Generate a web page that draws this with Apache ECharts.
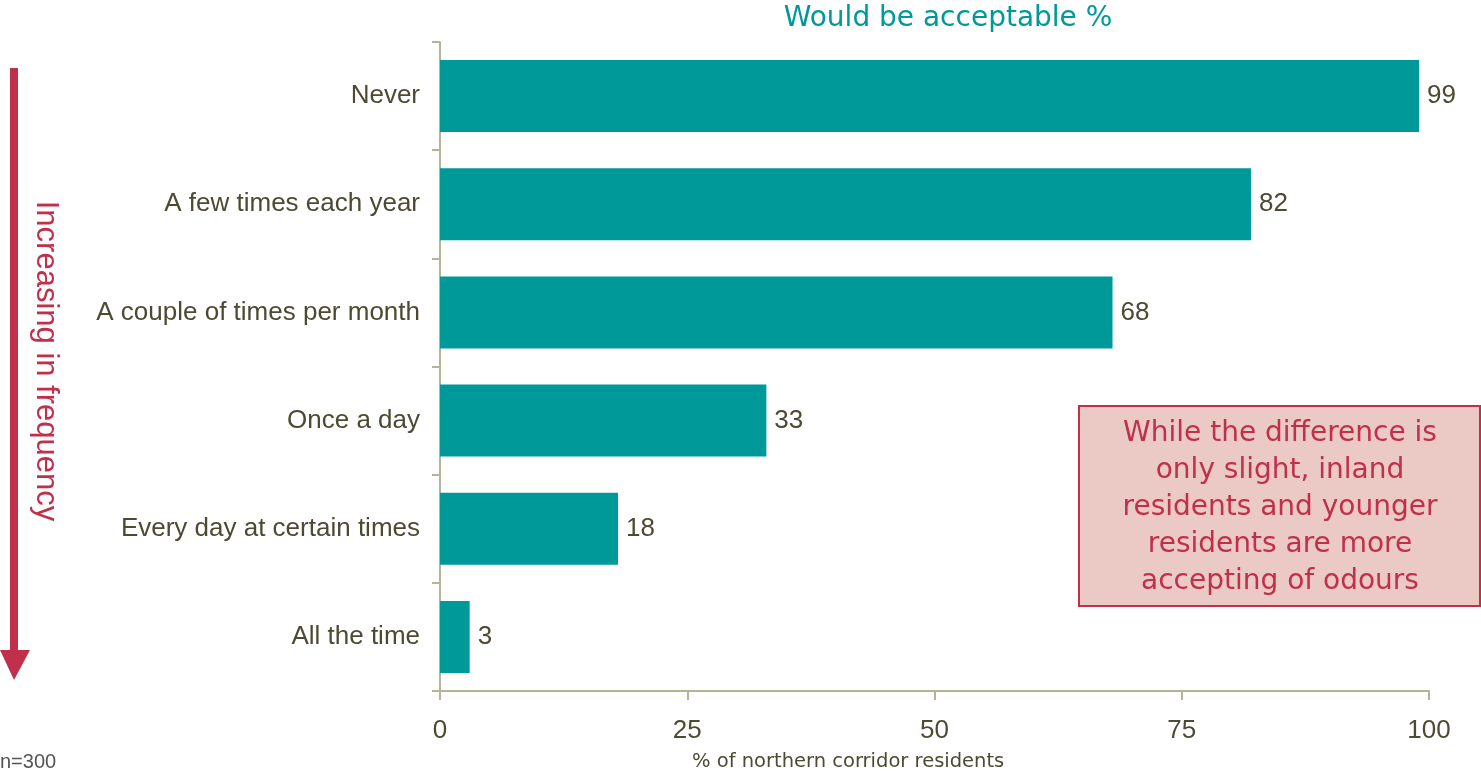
<!DOCTYPE html>
<html><head><meta charset="utf-8">
<script src="https://cdn.jsdelivr.net/npm/echarts@6/dist/echarts.min.js"></script>
<style>html,body{margin:0;padding:0;background:#fff}#c{width:1481px;height:780px}</style>
</head><body><div id="c"></div>
<script>
const categories = ["Never", "A few times each year", "A couple of times per month", "Once a day", "Every day at certain times", "All the time"];
const values = [99, 82, 68, 33, 18, 3];
const xTicks = [0, 25, 50, 75, 100];
const titleText = "Would be acceptable %";
const xAxisName = "% of northern corridor residents";
const noteText = "n=300";
const arrowText = "Increasing in frequency";
const boxLines = ["While the difference is", "only slight, inland", "residents and younger", "residents are more", "accepting of odours"];

const axisCol = '#b3b596';
const textCol = '#4d4a33';
const red = '#c0304a';
const chart = echarts.init(document.getElementById('c'));
chart.setOption({
  animation: false,
  grid: {left: 440, right: 52, top: 42, bottom: 89},
  xAxis: {
    type: 'value', min: 0, max: 100, interval: 25,
    axisLine: {show: true, lineStyle: {color: axisCol, width: 2}},
    axisTick: {show: true, length: 9, lineStyle: {color: axisCol, width: 2}},
    splitLine: {show: false},
    axisLabel: {color: textCol, fontSize: 26, fontFamily: 'Liberation Sans, Arial', margin: 27,
      formatter: v => xTicks.includes(v) ? String(v) : ''}
  },
  yAxis: {
    type: 'category', data: categories, inverse: true,
    axisLine: {show: true, lineStyle: {color: axisCol, width: 2}},
    axisTick: {show: true, length: 8, lineStyle: {color: axisCol, width: 2}},
    axisLabel: {color: textCol, fontSize: 26, fontFamily: 'Liberation Sans, Arial', margin: 20}
  },
  series: [{
    type: 'bar', data: values, barWidth: 72,
    itemStyle: {color: '#009999'},
    label: {show: true, position: 'right', distance: 8, color: textCol, fontSize: 26, fontFamily: 'Liberation Sans, Arial'}
  }],
  graphic: [
    {type: 'text', x: 948, y: 19, style: {text: titleText, fill: '#009999', font: '28px "DejaVu Sans", Verdana', align: 'center', verticalAlign: 'middle'}},
    {type: 'text', x: 0, y: 762, style: {text: noteText, fill: '#555555', font: '20px "Liberation Sans", Arial', verticalAlign: 'middle'}},
    {type: 'text', x: 692, y: 762, style: {text: xAxisName, fill: textCol, font: '19.5px "DejaVu Sans", Verdana', verticalAlign: 'middle'}},
    {type: 'rect', shape: {x: 10, y: 68, width: 8, height: 584}, style: {fill: red}},
    {type: 'polygon', shape: {points: [[0, 650], [30, 650], [14, 680]]}, style: {fill: red}},
    {type: 'text', x: 46, y: 361, rotation: -Math.PI / 2,
      style: {text: arrowText, fill: red, font: '31px "Liberation Sans", Arial', align: 'center', verticalAlign: 'middle'}},
    {type: 'rect', shape: {x: 1079, y: 406, width: 401, height: 200}, style: {fill: '#ebc9c5', stroke: red, lineWidth: 2}},
    {type: 'text', x: 1280, y: 508,
      style: {text: boxLines.join('\n'), fill: red, font: '28px "DejaVu Sans", Verdana', align: 'center', verticalAlign: 'middle', lineHeight: 37}}
  ]
});
</script></body></html>
